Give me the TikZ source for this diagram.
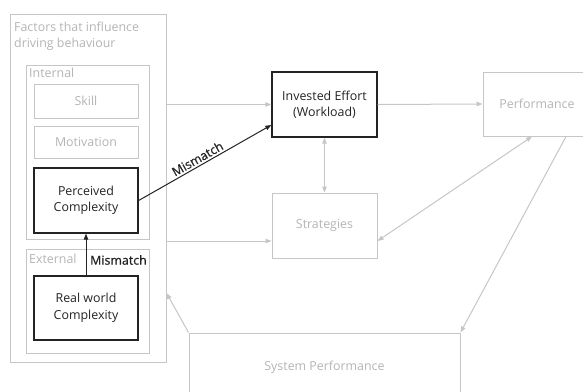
\documentclass[tikz,border=0pt]{standalone}
\usepackage{fontspec}
\setmainfont{Open Sans}
\newfontfamily\semib[FakeBold=0.6]{Open Sans}
\usetikzlibrary{arrows.meta}
\definecolor{lg}{RGB}{198,198,198}
\definecolor{tg}{RGB}{180,180,180}
\definecolor{dk}{RGB}{35,35,35}
\begin{document}
\begin{tikzpicture}[x=1pt,y=-1pt,
  lbl/.style={font=\fontsize{12.4}{16.5}\selectfont, inner sep=0pt},
  gbox/.style={draw=lg, line width=1pt, text=tg, inner sep=0pt, align=center, lbl},
  bbox/.style={draw=dk, line width=1.3pt, text=dk, inner sep=0pt, align=center, lbl},
  frame/.style={draw=lg, line width=1pt, inner sep=0pt},
  garr/.style={draw=lg, line width=1pt, -{Triangle[length=6pt,width=4.5pt]}},
  gdarr/.style={draw=lg, line width=1pt, {Triangle[length=6pt,width=4.5pt]}-{Triangle[length=6pt,width=4.5pt]}},
  barr/.style={draw=dk, line width=1pt, -{Triangle[length=6pt,width=4.5pt]}},
  mm/.style={font=\semib\fontsize{12.4}{16.5}\selectfont, inner sep=0pt, text=dk}
]
\useasboundingbox (0,0) rectangle (583,391);
\clip (0,0) rectangle (583,391);

% frames
\node[frame, minimum width=156pt, minimum height=348pt] (outer) at (88,188) {};
\node[frame, minimum width=123pt, minimum height=174pt] (internal) at (87.5,152) {};
\node[frame, minimum width=123pt, minimum height=104pt] (external) at (87.5,301) {};

\node[lbl, text=tg, align=left, anchor=north west] (factors) at (14,21.5) {Factors that influence\\driving behaviour};
\node[lbl, text=tg, anchor=north west] (intlbl) at (29,67.5) {Internal};
\node[lbl, text=tg, anchor=north west] (extlbl) at (29,254) {External};

% boxes
\node[gbox, minimum width=104pt, minimum height=34pt] (skill) at (86,101) {Skill};
\node[gbox, minimum width=104pt, minimum height=32pt] (motiv) at (86,142) {Motivation};
\node[bbox, minimum width=104pt, minimum height=65pt] (perc) at (86,200.5) {Perceived\\Complexity};
\node[bbox, minimum width=104pt, minimum height=64pt] (real) at (86,308) {Real world\\Complexity};
\node[bbox, minimum width=105pt, minimum height=65pt] (invest) at (324.5,104.5) {Invested Effort\\(Workload)};
\node[gbox, minimum width=105pt, minimum height=65pt] (strat) at (324.5,225.5) {Strategies};
\node[gbox, minimum width=108pt, minimum height=64pt] (perf) at (537,104) {Performance};
\node[gbox, minimum width=271pt, minimum height=68pt] (sys) at (324.5,367) {System Performance};

% connectors
\draw[garr] (invest.west -| outer.east) -- (invest.west);
\draw[garr] (outer.east |- 0,241) -- (strat.west |- 0,241);
\draw[garr] (invest.east) -- (perf.west);
\draw[gdarr] (invest.south) -- (strat.north);
\draw[gdarr] ([xshift=-5pt]perf.south) -- (strat.east |- 0,241);
\draw[garr] (perf.south -| 566,0) -- (sys.north east);
\draw[garr] (sys.north west) -- (outer.east |- 0,293);

\draw[barr] (perc.east) -- node[pos=0.47, above=2pt, sloped, mm] (mm1) {Mismatch} (invest.west |- 0,125);
\draw[barr] (real.north) -- (perc.south);
\node[mm, anchor=west] (mm2) at (90,260) {Mismatch};
\end{tikzpicture}
\end{document}
